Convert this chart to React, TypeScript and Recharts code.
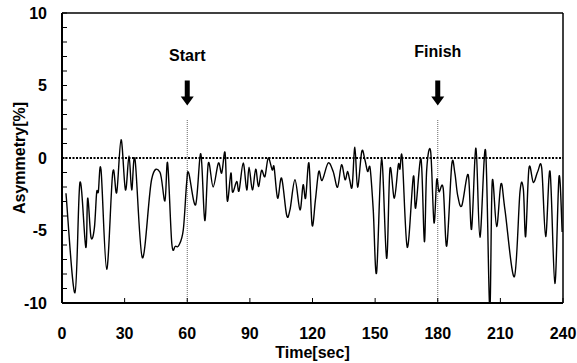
import React from "react";
import {
  LineChart,
  Line,
  XAxis,
  YAxis,
  ReferenceLine,
  ReferenceDot,
} from "recharts";

// time [sec] and asymmetry [%]
const timeSec = [
  1.9, 6.2, 8.6, 11.4, 12.3, 13.9, 15.5, 16.6, 17.4, 18.7, 21.4, 24.3, 26.2, 28.3, 30.4,
  32.1, 33.4, 35.0, 38.5, 42.9, 46.9, 49.3, 50.6, 52.6, 54.3, 56.0, 58.1, 59.7, 60.7, 64.0,
  66.5, 68.4, 70.1, 72.4, 74.9, 76.5, 78.1, 79.2, 80.9, 81.7, 83.7, 84.8, 86.8, 88.5,
  89.6, 91.2, 92.8, 94.1, 95.6, 97.2, 98.8, 100.7, 101.6, 103.3, 105.2, 107.6, 109.2,
  111.6, 114.0, 115.5, 116.7, 118.3, 119.8, 121.4, 123.0, 124.6, 127.5, 129.9, 132.0,
  133.9, 135.6, 136.8, 137.8, 139.0, 140.3, 141.6, 143.6, 145.1, 146.4, 147.6, 149.1,
  150.7, 153.1, 155.5, 157.1, 159.2, 161.1, 161.9, 163.0, 165.4, 168.3, 169.4, 172.0,
  173.6, 174.7, 176.6, 178.2, 179.5, 180.6, 182.6, 184.3, 186.7, 188.2, 189.5, 191.5,
  194.6, 196.2, 198.3, 200.2, 202.9, 204.9, 206.1, 208.2, 210.3, 212.2, 216.7, 219.4,
  221.0, 222.1, 223.7, 225.8, 227.9, 229.8, 231.7, 233.8, 236.1, 238.1, 239.6,
];

const asymmetry = [
  -2.43, -9.3, -1.69, -6.16, -2.77, -5.47, -4.84, -2.38, -2.34, -0.82, -7.68, -1.0, -2.38,
  1.26, -2.2, 0.15, -2.2, -0.12, -6.88, -1.5, -0.97, -2.96, -0.35, -5.9, -6.08, -6.02, -4.96,
  -1.73, -1.04, -3.23, 0.29, -4.32, -0.35, -2.0, -0.35, -1.04, 0.38, -2.96, -1.04, -2.36,
  -1.62, -2.27, -0.35, -2.2, -0.63, -2.2, -0.77, -1.97, -0.86, -1.28, 0.0, -0.82, -0.63,
  -2.77, -1.39, -3.93, -3.58, -1.5, -3.58, -1.85, -2.77, -0.35, -4.62, -2.89, -0.93,
  -1.55, -0.35, -0.93, -2.01, -0.47, -1.5, -0.93, -1.5, -1.97, 0.75, -2.01, 0.45, -0.12,
  -0.93, -0.7, -3.58, -7.91, -0.08, -6.92, -0.77, -2.77, -0.47, -0.77, 0.0, -6.16, -1.28,
  -3.46, -0.08, -5.77, -0.82, 0.45, -4.46, -1.5, -2.32, -2.08, -6.07, -0.47, -1.04,
  -2.54, -3.3, -1.16, -4.91, 0.68, -5.47, 0.52, -10.4, -1.62, -4.73, -1.78, -3.58, -8.19,
  -2.32, -2.15, -5.42, -0.7, -1.69, -0.93, -0.7, -5.42, -0.93, -8.65, -1.28, -5.1,
];

const xTicks = [0, 30, 60, 90, 120, 150, 180, 210, 240];
const yTicks = [-10, -9, -8, -7, -6, -5, -4, -3, -2, -1, 0, 1, 2, 3, 4, 5, 6, 7, 8, 9, 10];

const markerTimes = [60, 180];
const markerLabels = ["Start", "Finish"];
const markerArrowTop = 5.34; // value at which the arrows start
const markerLineTop = 2.64; // dotted guide lines run from here down

const data = timeSec.map((t, i) => ({ t, v: asymmetry[i] }));

const font = "'Liberation Sans', Arial, sans-serif";
const labelDy = [-20, -24];

// Catmull-Rom style smoothing, like a spreadsheet "smoothed line"
const smoothCurve = (ctx: any) => {
  let pts: number[][] = [];
  return {
    areaStart() {},
    areaEnd() {},
    lineStart() {
      pts = [];
    },
    point(x: number, y: number) {
      pts.push([+x, +y]);
    },
    lineEnd() {
      if (!pts.length) return;
      ctx.moveTo(pts[0][0], pts[0][1]);
      for (let i = 0; i < pts.length - 1; i++) {
        const p0 = pts[i - 1] || pts[i];
        const p1 = pts[i];
        const p2 = pts[i + 1];
        const p3 = pts[i + 2] || p2;
        ctx.bezierCurveTo(
          p1[0] + (p2[0] - p0[0]) / 6,
          p1[1] + (p2[1] - p0[1]) / 6,
          p2[0] - (p3[0] - p1[0]) / 6,
          p2[1] - (p3[1] - p1[1]) / 6,
          p2[0],
          p2[1]
        );
      }
    },
  };
};

const YTick = (props: any) => {
  const { x, y, payload } = props;
  const major = payload.value % 5 === 0;
  return (
    <g>
      <line x1={x} x2={x + 5} y1={y} y2={y} stroke="#000" strokeWidth={1} />
      {major ? (
        <text
          x={x - 15}
          y={y}
          dy={5.5}
          textAnchor="end"
          fontFamily={font}
          fontWeight="bold"
          fontSize={16}
          fill="#000"
        >
          {payload.value}
        </text>
      ) : null}
    </g>
  );
};

const XTick = (props: any) => {
  const { x, y, payload } = props;
  return (
    <g>
      <line x1={x} x2={x} y1={y} y2={y - 5} stroke="#000" strokeWidth={1} />
      <text
        x={x}
        y={y + 36}
        textAnchor="middle"
        fontFamily={font}
        fontWeight="bold"
        fontSize={16}
        fill="#000"
      >
        {payload.value}
      </text>
    </g>
  );
};

const Marker = (idx: number) => (props: any) => {
  const { cx, cy } = props;
  return (
    <g>
      <text
        x={cx}
        y={cy + labelDy[idx]}
        textAnchor="middle"
        fontFamily={font}
        fontWeight="bold"
        fontSize={16}
        fill="#000"
      >
        {markerLabels[idx]}
      </text>
      <path
        d={`M${cx - 2.5},${cy} L${cx + 2.5},${cy} L${cx + 2.5},${cy + 16} L${cx + 6.5},${cy + 16} L${cx},${cy + 25} L${cx - 6.5},${cy + 16} L${cx - 2.5},${cy + 16} Z`}
        fill="#000"
      />
    </g>
  );
};

export default function App() {
  return (
    <div style={{ position: "absolute", left: 0, top: 0, width: 577, height: 363, background: "#fff" }}>
      <LineChart width={577} height={363} data={data} margin={{ top: 0, right: 0, bottom: 0, left: 0 }}>
        <XAxis
          dataKey="t"
          type="number"
          domain={[0, 240]}
          ticks={xTicks}
          interval={0}
          height={60}
          tickSize={0}
          tickMargin={0}
          tick={<XTick />}
          axisLine={{ stroke: "#000", strokeWidth: 2 }}
          tickLine={false}
          label={{
            content: (p: any) => {
              const vb = p.viewBox;
              return (
                <text
                  x={vb.x + vb.width / 2}
                  y={vb.y + 55}
                  textAnchor="middle"
                  fontFamily={font}
                  fontWeight="bold"
                  fontSize={16}
                  fill="#000"
                >
                  Time[sec]
                </text>
              );
            },
          }}
        />
        <XAxis
          xAxisId="top"
          orientation="top"
          type="number"
          domain={[0, 240]}
          height={13}
          tick={false}
          tickLine={false}
          axisLine={{ stroke: "#000", strokeWidth: 1.5 }}
        />
        <YAxis
          type="number"
          domain={[-10, 10]}
          ticks={yTicks}
          interval={0}
          allowDataOverflow
          width={62}
          tickSize={0}
          tickMargin={0}
          tick={<YTick />}
          tickLine={false}
          axisLine={{ stroke: "#000", strokeWidth: 2 }}
          label={{
            content: (p: any) => {
              const vb = p.viewBox;
              const cx = vb.x + 19;
              const cy = vb.y + vb.height / 2;
              return (
                <text
                  x={cx}
                  y={cy}
                  transform={`rotate(-90 ${cx} ${cy})`}
                  textAnchor="middle"
                  dominantBaseline="central"
                  fontFamily={font}
                  fontWeight="bold"
                  fontSize={16}
                  fill="#000"
                >
                  Asymmetry[%]
                </text>
              );
            },
          }}
        />
        <YAxis
          yAxisId="right"
          orientation="right"
          domain={[-10, 10]}
          width={14}
          tick={false}
          tickLine={false}
          axisLine={{ stroke: "#000", strokeWidth: 1.5 }}
        />
        <ReferenceLine y={0} stroke="#000" strokeWidth={2} strokeDasharray="2 1.5" />
        {markerTimes.map((m) => (
          <ReferenceLine
            key={"g" + m}
            segment={[
              { x: m, y: -10 },
              { x: m, y: markerLineTop },
            ]}
            stroke="#666"
            strokeWidth={1}
            strokeDasharray="1 1"
          />
        ))}
        {markerTimes.map((m, i) => (
          <ReferenceDot key={"m" + m} x={m} y={markerArrowTop} r={0} shape={Marker(i)} />
        ))}
        <Line
          dataKey="v"
          type={smoothCurve as any}
          stroke="#000"
          strokeWidth={1.4}
          dot={false}
          isAnimationActive={false}
        />
      </LineChart>
    </div>
  );
}
